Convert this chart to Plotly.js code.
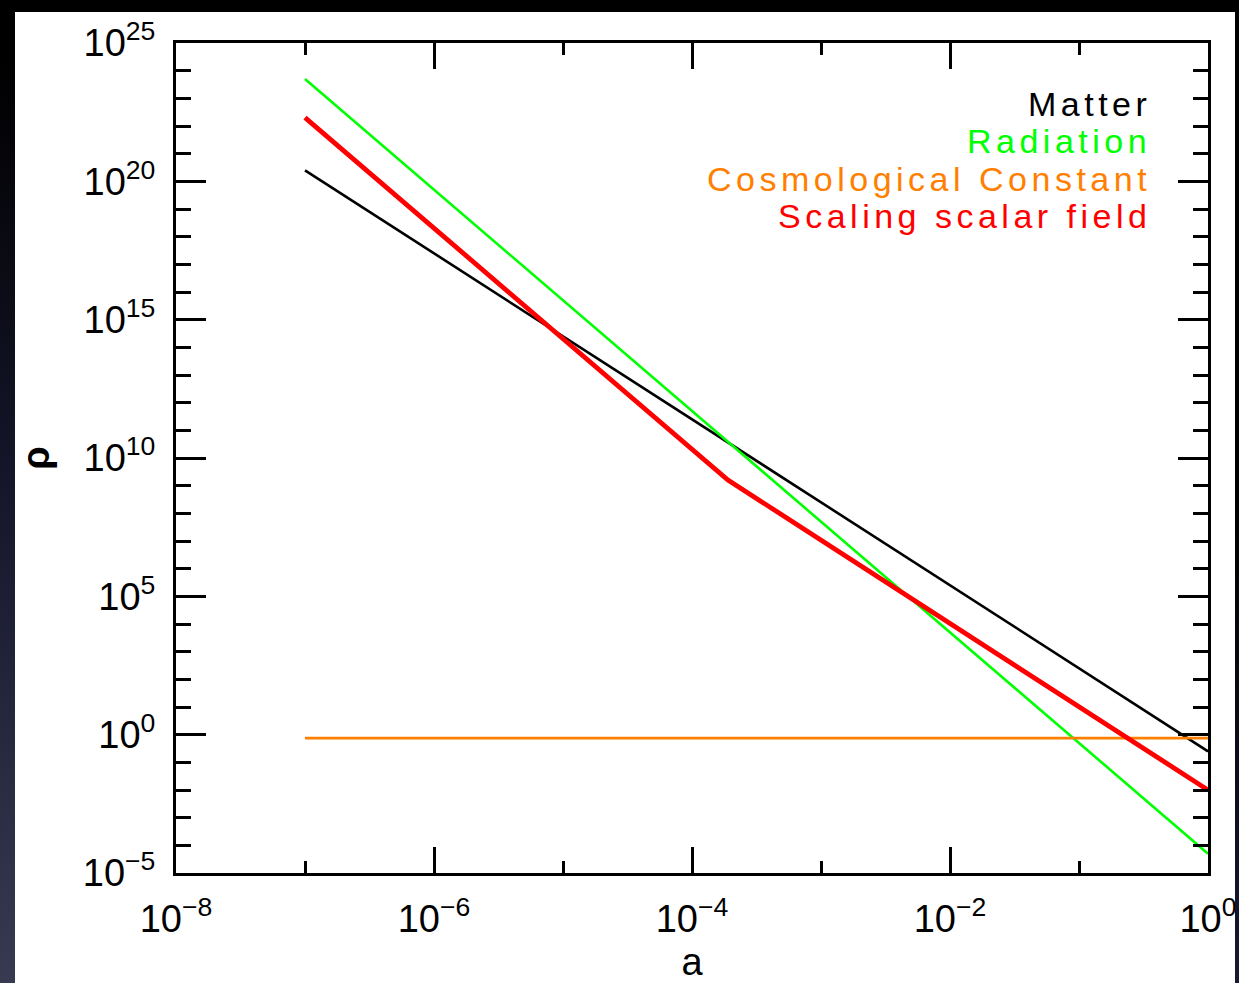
<!DOCTYPE html>
<html>
<head>
<meta charset="utf-8">
<script src="https://cdn.plot.ly/plotly-3.0.1.min.js"></script>
<style>
  html, body { margin: 0; padding: 0; width: 1239px; height: 983px; overflow: hidden; }
  body { background: linear-gradient(20deg, #383a52 0%, #15162a 35%, #000000 65%); }
  #frame { position: absolute; left: 15px; top: 12px; width: 1220px; height: 971px; background: #ffffff; overflow: hidden; }
  #chart { width: 1220px; height: 971px; }
  .annotation-text { letter-spacing: 4.5px; }
</style>
</head>
<body>
<div id="frame"><div id="chart"></div></div>
<script>
// Scale factor a and energy densities rho
const aLine = [1e-7, 1];
const matter = [2.5e20, 0.25];
const radiation = [5e23, 5e-5];
const cosmoConst = [0.75, 0.75];
const aScalar = [1e-7, 1.9e-4, 1];
const scalarField = [2e22, 1.6e9, 1e-2];

const seriesNames = ['Matter', 'Radiation', 'Cosmological Constant', 'Scaling scalar field'];
const seriesColors = ['#000000', '#00ff00', '#ff8000', '#ff0000'];

const xTickVals = [1e-8, 1e-6, 1e-4, 1e-2, 1];
const xTickText = ['10<sup>\u22128</sup>', '10<sup>\u22126</sup>', '10<sup>\u22124</sup>', '10<sup>\u22122</sup>', '10<sup>0</sup>'];
const xMinorVals = [1e-8, 1e-7, 1e-6, 1e-5, 1e-4, 1e-3, 1e-2, 1e-1, 1];
const yTickVals = [1e-5, 1, 1e5, 1e10, 1e15, 1e20, 1e25];
const yTickText = ['10<sup>\u22125</sup>', '10<sup>0</sup>', '10<sup>5</sup>', '10<sup>10</sup>', '10<sup>15</sup>', '10<sup>20</sup>', '10<sup>25</sup>'];
const yMinorVals = [];
for (let p = -5; p <= 25; p++) yMinorVals.push(Math.pow(10, p));

const FONT = 'Liberation Sans, Arial, sans-serif';

const traces = [
  {x: aLine, y: matter, mode: 'lines', line: {color: seriesColors[0], width: 2.6}, name: seriesNames[0]},
  {x: aLine, y: radiation, mode: 'lines', line: {color: seriesColors[1], width: 2.6}, name: seriesNames[1]},
  {x: aLine, y: cosmoConst, mode: 'lines', line: {color: seriesColors[2], width: 2.6}, name: seriesNames[2]},
  {x: aScalar, y: scalarField, mode: 'lines', line: {color: seriesColors[3], width: 4.8}, name: seriesNames[3]}
];

const legendY = [0.9265, 0.8815, 0.8365, 0.7915];
const annotations = seriesNames.map((n, i) => ({
  text: n, xref: 'paper', yref: 'paper', x: 0.9465, y: legendY[i],
  xanchor: 'right', yanchor: 'middle', showarrow: false,
  font: {family: FONT, size: 34, color: seriesColors[i]}
}));

const axisCommon = {
  type: 'log', showgrid: false, zeroline: false, showline: true, linecolor: '#000', linewidth: 3,
  mirror: 'allticks', ticks: 'inside', tickcolor: '#000', tickwidth: 3,
  tickmode: 'array', ticklabeloverflow: 'allow',
  tickfont: {family: FONT, size: 38, color: '#000'}
};

const layout = {
  width: 1220, height: 971,
  margin: {l: 161, r: 27, t: 31, b: 110},
  paper_bgcolor: '#ffffff', plot_bgcolor: '#ffffff',
  showlegend: false,
  xaxis: Object.assign({}, axisCommon, {
    range: [-8, 0], tickvals: xTickVals, ticktext: xTickText, ticklen: 26,
    ticklabelstandoff: 10,
    minor: {tickmode: 'array', tickvals: xMinorVals, ticks: 'inside', ticklen: 12, tickwidth: 3, tickcolor: '#000'},
    title: {text: 'a', font: {family: FONT, size: 38, color: '#000'}, standoff: 10}
  }),
  yaxis: Object.assign({}, axisCommon, {
    range: [-5, 25], tickvals: yTickVals, ticktext: yTickText, ticklen: 30,
    ticklabelstandoff: 10,
    minor: {tickmode: 'array', tickvals: yMinorVals, ticks: 'inside', ticklen: 15, tickwidth: 3, tickcolor: '#000'},
    title: {text: '\u03c1', font: {family: FONT, size: 38, color: '#000', weight: 'bold'}, standoff: 24}
  }),
  annotations: annotations
};

Plotly.newPlot('chart', traces, layout, {displayModeBar: false, staticPlot: true});
</script>
</body>
</html>
